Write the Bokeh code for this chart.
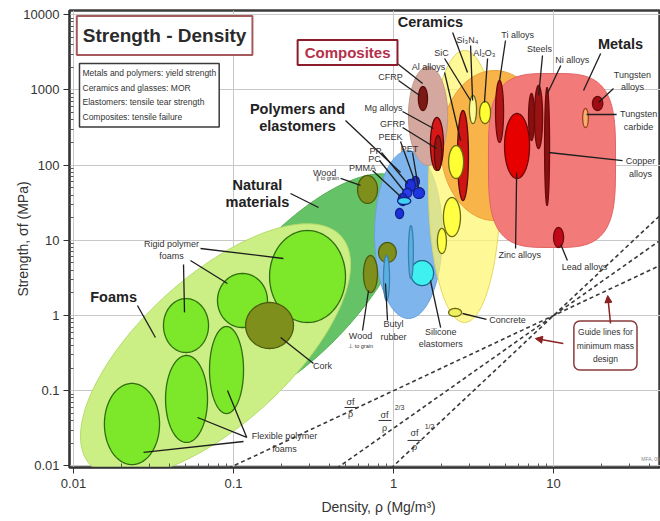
import numpy as np
from bokeh.plotting import figure
from bokeh.models import (ColumnDataSource, FixedTicker, CustomJSTickFormatter,
                          Label, Arrow, NormalHead, Range1d)
from bokeh.embed import file_html
from bokeh.resources import INLINE

FONT = "Liberation Sans"

# ---------------- axes ----------------
x_ticks = [0.01, 0.1, 1, 10]
x_tick_labels = ["0.01", "0.1", "1", "10"]
y_ticks = [0.01, 0.1, 1, 10, 100, 1000, 10000]
y_tick_labels = ["0.01", "0.1", "1", "10", "100", "1000", "10000"]

# ---------------- material-class envelopes ----------------
# density range (Mg/m3), strength range at the centre line (MPa),
# lean = decades of strength per decade of density along the envelope
env_names = ["Natural materials", "Foams", "Polymers and elastomers", "Ceramics",
             "Technical ceramics", "Composites", "Metals"]
env_rho_lo = [0.0539, 0.01106, 0.761, 1.655, 1.97, 1.24, 3.92]
env_rho_hi = [1.278, 0.539, 2.02, 4.66, 9.31, 2.18, 24.4]
env_sig_lo = [0.1855, 0.0199, 0.912, 0.807, 18.3, 98.8, 8.02]
env_sig_hi = [24.9, 5.92, 156.0, 3342.0, 1811.0, 2047.0, 1652.0]
env_lean = [1.644, 1.355, 0.0, 0.0, 0.0, 0.0, 0.0]
env_power = [2.0, 2.0, 2.0, 2.0, 2.0, 2.0, 3.5]
env_fill = ["#66c266", "#cbef84", "#7eb5ec", "#fff56e", "#f8b448", "#d4a89e", "#f27a78"]
env_line = ["#56b056", "#b4dc6c", "#6aa2dc", "#e2d85a", "#e8a038", "#c09488", "#e06464"]
env_alpha = [1.0, 1.0, 1.0, 0.72, 1.0, 1.0, 1.0]

# ---------------- individual material bubbles ----------------
foam_names = ["Rigid foam A", "Rigid foam B", "Rigid foam C",
              "Flexible foam A", "Flexible foam B", "Flexible foam C"]
foam_rho_lo = [0.0365, 0.0794, 0.168, 0.0156, 0.0376, 0.0708]
foam_rho_hi = [0.0698, 0.163, 0.501, 0.0345, 0.0688, 0.1155]
foam_sig_lo = [0.322, 0.692, 0.807, 0.0104, 0.0205, 0.0497]
foam_sig_hi = [1.68, 3.62, 13.5, 0.125, 0.294, 0.714]

natural_names = ["Cork", "Wood (parallel)", "Wood (perpendicular)", "Bamboo"]
natural_rho_lo = [0.119, 0.596, 0.649, 0.806]
natural_rho_hi = [0.237, 0.794, 0.794, 1.04]
natural_sig_lo = [0.364, 30.9, 2.02, 5.07]
natural_sig_hi = [1.49, 72.7, 6.28, 9.35]

polymer_names = ["PEEK", "PP", "PET", "PC", "PMMA", "PA", "PS",
                 "Silicone elastomers", "Butyl rubber", "Neoprene"]
polymer_rho_lo = [1.30, 1.19, 1.33, 1.14, 1.07, 1.03, 1.06, 1.28, 0.866, 1.24]
polymer_rho_hi = [1.45, 1.37, 1.56, 1.30, 1.22, 1.155, 1.28, 1.78, 0.944, 1.33]
polymer_sig_lo = [51.9, 44.6, 36.0, 37.1, 29.0, 19.5, 29.9, 2.5, 1.58, 3.1]
polymer_sig_hi = [70.5, 64.4, 50.3, 48.9, 41.9, 26.5, 37.1, 5.38, 6.28, 15.7]
polymer_fill = ["#2238e6", "#1e30d8", "#1f35e0", "#2a3cec", "#1c2cd0", "#1a30d8", "#3fd2ee",
                "#3ff0f0", "#5ab0e0", "#5ab0e0"]
polymer_line = ["#10208a"] * 7 + ["#1a6a8a", "#3a80b0", "#3a80b0"]

composite_names = ["CFRP", "Mg alloys", "GFRP", "Al alloys"]
composite_rho_lo = [1.43, 1.70, 1.80, 2.51]
composite_rho_hi = [1.63, 2.05, 2.00, 2.94]
composite_sig_lo = [532.0, 84.8, 84.8, 33.8]
composite_sig_hi = [1109.0, 430.0, 248.0, 532.0]
composite_fill = ["#7a1a14", "#d81818", "#9a1212", "#cf1414"]

metal_names = ["Ti alloys", "Steels A", "Steels B", "Copper alloys", "Zinc alloys",
               "Lead alloys", "Tungsten alloys", "Tungsten carbide"]
metal_rho_lo = [4.34, 6.98, 7.6, 8.79, 4.94, 10.0, 17.5, 15.2]
metal_rho_hi = [4.87, 7.6, 8.54, 9.44, 7.08, 11.55, 20.3, 16.5]
metal_sig_lo = [200.0, 212.0, 166.0, 29.0, 66.3, 8.02, 532.0, 316.0]
metal_sig_hi = [1334.0, 896.0, 1145.0, 1077.0, 486.0, 14.8, 817.0, 566.0]
metal_fill = ["#b01515", "#8a1010", "#9a1212", "#8a1010", "#e60000", "#c00818", "#a00c14", "#f5b070"]
metal_line = ["#6a0a0a"] * 7 + ["#a04020"]

ceramic_names = ["Glass", "Si3N4", "Al2O3", "Stone", "Brick", "Concrete"]
ceramic_rho_lo = [2.21, 2.98, 3.45, 2.05, 1.88, 2.21]
ceramic_rho_hi = [2.74, 3.30, 4.04, 2.62, 2.14, 2.66]
ceramic_sig_lo = [66.3, 357.0, 357.0, 11.2, 6.67, 0.97]
ceramic_sig_hi = [182.0, 843.0, 701.0, 37.1, 14.4, 1.24]
ceramic_fill = ["#ffff33", "#fdfa9a", "#ffff33", "#ffff44", "#ffff44", "#f0f060"]

# guide lines for minimum-mass design, all through (10 Mg/m3, 1 MPa)
guide_exponents = [1.0, 1.5, 2.0]
guide_anchor = (10.0, 1.0)


def outline(rho_lo, rho_hi, sig_lo, sig_hi, lean=0.0, power=2.0, n=140):
    """Closed outline of a bubble in log-log space (superellipse for power > 2)."""
    lx0, lx1 = np.log10(rho_lo), np.log10(rho_hi)
    ly0, ly1 = np.log10(sig_lo), np.log10(sig_hi)
    cx, a = (lx0 + lx1) / 2, (lx1 - lx0) / 2
    cy, b = (ly0 + ly1) / 2, (ly1 - ly0) / 2
    t = np.linspace(0, 2 * np.pi, n, endpoint=False)
    c, s = np.cos(t), np.sin(t)
    e = 2.0 / power
    c = np.sign(c) * np.abs(c) ** e
    s = np.sign(s) * np.abs(s) ** e
    return list(10 ** (cx + a * c)), list(10 ** (cy + lean * a * c + b * s))


def bubble_source(rlo, rhi, slo, shi, fill, line, alpha=None, lean=None, power=None):
    xs, ys = [], []
    for i in range(len(rlo)):
        x, y = outline(rlo[i], rhi[i], slo[i], shi[i],
                       lean[i] if lean else 0.0, power[i] if power else 2.0)
        xs.append(x)
        ys.append(y)
    return ColumnDataSource(dict(xs=xs, ys=ys, fill=fill, line=line,
                                 alpha=alpha if alpha else [1.0] * len(rlo)))


p = figure(width=660, height=521, x_axis_type="log", y_axis_type="log",
           x_range=Range1d(0.00944, 46.6), y_range=Range1d(0.00952, 11370),
           output_backend="svg", toolbar_location=None,
           min_border_left=69, min_border_right=0, min_border_top=10, min_border_bottom=54,
           x_axis_label="\u00a0" * 8 + "Density, \u03c1  (Mg/m\u00b3)",
           y_axis_label="Strength, \u03c3f (MPa)")

p.background_fill_color = "white"
p.border_fill_color = "white"
p.outline_line_color = "#3c3c3c"
p.outline_line_width = 2.5


def minors(lo_exp, hi_exp):
    return [m * 10.0 ** k for k in range(lo_exp, hi_exp) for m in range(2, 10)]


p.xaxis.ticker = FixedTicker(ticks=x_ticks, minor_ticks=minors(-3, 2))
p.yaxis.ticker = FixedTicker(ticks=y_ticks, minor_ticks=minors(-3, 5))
fmt_code = """
const i = tvals.findIndex(v => Math.abs(Math.log10(v) - Math.log10(tick)) < 1e-6);
return i < 0 ? "" : tlabels[i];
"""
p.xaxis.formatter = CustomJSTickFormatter(args=dict(tvals=x_ticks, tlabels=x_tick_labels), code=fmt_code)
p.yaxis.formatter = CustomJSTickFormatter(args=dict(tvals=y_ticks, tlabels=y_tick_labels), code=fmt_code)

for ax in (p.xaxis[0], p.yaxis[0]):
    ax.axis_line_color = "#333333"
    ax.axis_line_width = 1.5
    ax.major_tick_line_color = "#333333"
    ax.major_tick_out = 6
    ax.major_tick_in = 0
    ax.minor_tick_line_color = "#555555"
    ax.minor_tick_out = 0
    ax.minor_tick_in = 4
    ax.major_label_text_font = FONT
    ax.major_label_text_font_size = "13px"
    ax.major_label_text_color = "#333333"
    ax.axis_label_text_font = FONT
    ax.axis_label_text_font_size = "14px"
    ax.axis_label_text_font_style = "normal"
    ax.axis_label_text_color = "#333333"
p.xaxis.major_label_standoff = 5
p.xaxis.axis_label_standoff = 8
p.yaxis.major_label_standoff = 4
p.yaxis.axis_label_standoff = -11

p.xgrid.grid_line_color = "#c8c8c8"
p.ygrid.grid_line_color = "#c8c8c8"

# envelopes (natural, foams, polymers, ceramics, technical ceramics, composites, metals)
env_src = bubble_source(env_rho_lo, env_rho_hi, env_sig_lo, env_sig_hi, env_fill, env_line,
                        env_alpha, env_lean, env_power)
p.patches("xs", "ys", source=env_src, fill_color="fill", fill_alpha="alpha",
          line_color="line", line_width=1)

# bubbles
groups = [
    (natural_rho_lo, natural_rho_hi, natural_sig_lo, natural_sig_hi,
     ["#7f8f1c"] * 4, ["#4d5a10"] * 4),
    (foam_rho_lo, foam_rho_hi, foam_sig_lo, foam_sig_hi,
     ["#7de82a"] * 6, ["#2f6e10"] * 6),
    (polymer_rho_lo, polymer_rho_hi, polymer_sig_lo, polymer_sig_hi,
     polymer_fill, polymer_line),
    (composite_rho_lo, composite_rho_hi, composite_sig_lo, composite_sig_hi,
     composite_fill, ["#5a0a0a"] * 4),
    (metal_rho_lo, metal_rho_hi, metal_sig_lo, metal_sig_hi, metal_fill, metal_line),
    (ceramic_rho_lo, ceramic_rho_hi, ceramic_sig_lo, ceramic_sig_hi,
     ceramic_fill, ["#6a6a10"] * 6),
]
# cork sits above the rigid foams, so draw natural bubbles after foams
order = [1, 0, 2, 3, 4, 5]
for gi in order:
    rlo, rhi, slo, shi, fill, line = groups[gi]
    src = bubble_source(rlo, rhi, slo, shi, fill, line)
    p.patches("xs", "ys", source=src, fill_color="fill", line_color="line", line_width=1.3)

# guide lines
for k in guide_exponents:
    r0 = guide_anchor[0] * (0.0093 / guide_anchor[1]) ** (1.0 / k)
    rr = np.logspace(np.log10(r0), np.log10(46.6), 60)
    ss = guide_anchor[1] * (rr / guide_anchor[0]) ** k
    p.line(rr, ss, line_color="#3a3a3a", line_width=1.6, line_dash="4 3")

# leader lines from labels to bubbles
pointers = [
    (0.0251, 1.36, 0.0325, 0.51),
    (0.0622, 7.78, 0.205, 5.73), (0.0538, 5.39, 0.0917, 2.66), (0.0487, 4.77, 0.0494, 1.1),
    (0.227, 41.9, 0.340, 27.3),
    (0.501, 392, 1.106, 79.7),
    (2.34, 5800, 2.90, 1703),
    (19.7, 3048, 15.4, 982),
    (1.0, 2460, 1.52, 1217),
    (0.467, 66.4, 0.622, 53.6),
    (0.739, 84.8, 1.106, 38.2),
    (0.818, 115, 1.155, 45.9),
    (0.841, 147, 1.223, 56.9),
    (1.106, 206, 1.353, 62.4),
    (1.314, 147, 1.433, 48.9),
    (1.138, 316, 1.857, 166),
    (1.138, 516, 1.778, 307),
    (1.075, 1334, 1.455, 843),
    (2.084, 1703, 2.623, 212),
    (2.084, 2616, 3.03, 723),
    (3.03, 3893, 3.12, 723),
    (3.87, 2616, 3.70, 680),
    (5.01, 4540, 4.60, 1334),
    (8.53, 2866, 8.07, 843),
    (11.1, 2110, 9.16, 896),
    (23.7, 1044, 19.1, 680),
    (24.8, 471, 16.1, 471),
    (27.0, 115, 9.31, 147),
    (5.79, 7.78, 5.88, 79.7),
    (12.2, 5.39, 11.1, 8.79),
    (3.81, 0.885, 2.70, 1.063),
    (1.97, 0.692, 1.70, 2.92),
    (0.917, 0.858, 0.891, 2.66),
    (0.640, 0.632, 0.698, 2.15),
    (0.316, 0.230, 0.197, 0.51),
    (0.121, 0.0239, 0.0917, 0.1007), (0.121, 0.0239, 0.0596, 0.044),
    (0.1155, 0.0211, 0.0274, 0.0151),
]
p.segment([q[0] for q in pointers], [q[1] for q in pointers],
          [q[2] for q in pointers], [q[3] for q in pointers],
          line_color="#1e1e1e", line_width=1.3)

# fraction bars of the guide-line indices
bars = [(0.494, 0.587, 0.0598), (0.806, 0.972, 0.0402), (1.223, 1.496, 0.0218)]
p.segment([b[0] for b in bars], [b[2] for b in bars], [b[1] for b in bars], [b[2] for b in bars],
          line_color="#333333", line_width=1)


def add_label(text, x, y, size="9px", bold=False, color="#333333", align="center",
              baseline="middle", line_height=1.25, **kw):
    p.add_layout(Label(x=x, y=y, text=text, text_font=FONT, text_font_size=size,
                       text_font_style="bold" if bold else "normal", text_color=color,
                       text_align=align, text_baseline=baseline,
                       text_line_height=line_height, **kw))


# group titles
add_label("Foams", 0.0178, 1.74, "14.5px", True, "#222222")
add_label("Natural\nmaterials", 0.141, 41.9, "14.5px", True, "#222222", line_height=1.1)
add_label("Polymers and\nelastomers", 0.251, 430, "14.5px", True, "#222222", line_height=1.05)
add_label("Ceramics", 1.70, 7874, "14.5px", True, "#222222")
add_label("Metals", 26.2, 4018, "14.5px", True, "#222222")

# framed boxes
add_label("Strength - Density", 0.0371, 5290, "19px", True, "#2b2b2b",
          border_line_color="#a45a5a", border_line_width=2,
          background_fill_color="white", padding=(6, 9))
add_label("Metals and polymers: yield strength\nCeramics and glasses: MOR\n"
          "Elastomers: tensile tear strength\nComposites: tensile failure",
          0.0109, 2244, "8.5px", False, "#333333", align="left", baseline="top",
          line_height=1.45, border_line_color="#3a3a3a", border_line_width=1.5,
          background_fill_color="white", padding=(3, 5))
add_label("Composites", 0.516, 3142, "15px", True, "#b5304a",
          border_line_color="#8b1c2c", border_line_width=2,
          background_fill_color="white", padding=(7, 4))
add_label("Guide lines for\nminimum mass\ndesign", 21.1, 0.399, "8.5px", False, "#333333",
          line_height=1.35, border_line_color="#8b3a3a", border_line_width=1.5,
          background_fill_color="white", padding=(3, 6), border_radius=6)

# material names
small = [
    ("Rigid polymer\nfoams", 0.041, 7.43),
    ("PMMA", 0.640, 90.1), ("PC", 0.761, 122), ("PP", 0.772, 156),
    ("PEEK", 0.958, 233), ("PET", 1.259, 166), ("GFRP", 0.986, 347),
    ("Mg alloys", 0.866, 566), ("CFRP", 0.958, 1462), ("Al alloys", 1.655, 1986),
    ("SiC", 1.995, 3048), ("Si\u2083N\u2084", 2.90, 4540), ("Al\u2082O\u2083", 3.70, 3048),
    ("Ti alloys", 5.96, 5290), ("Steels", 8.18, 3445), ("Ni alloys", 13.1, 2460),
    ("Tungsten\nalloys", 31.1, 1313), ("Tungsten\ncarbide", 34.0, 392),
    ("Copper\nalloys", 35.0, 92.9), ("Zinc alloys", 6.14, 6.28), ("Lead alloys", 15.6, 4.35),
    ("Concrete", 5.16, 0.858), ("Silicone\nelastomers", 1.97, 0.502),
    ("Butyl\nrubber", 1.0, 0.632), ("Cork", 0.360, 0.210),
    ("Flexible polymer\nfoams", 0.208, 0.0205),
    ("Wood", 0.371, 79.7), ("Wood", 0.622, 0.526),
]
for t, x, y in small:
    add_label(t, x, y, "9px", line_height=1.25)
add_label("\u2225 to grain", 0.387, 66.4, "5.5px")
add_label("\u22a5 to grain", 0.622, 0.399, "5.5px")

# guide-line indices
for t, x, y, s in [("\u03c3f", 0.538, 0.0718, "9px"), ("\u03c1", 0.538, 0.0497, "9px"),
                   ("\u03c3f", 0.878, 0.0482, "9px"), ("\u03c1", 0.878, 0.0324, "9px"),
                   ("2/3", 1.09, 0.0598, "7px"),
                   ("\u03c3f", 1.353, 0.027, "9px"), ("\u03c1", 1.353, 0.0176, "9px"),
                   ("1/2", 1.679, 0.0334, "7px")]:
    add_label(t, x, y, s)
add_label("MFA, 09", 40.4, 0.0125, "5px", color="#888888")

# arrows from the guide-line note
for xs_, ys_, xe_, ye_ in [(11.5, 0.424, 7.7, 0.494), (22.7, 0.783, 21.8, 1.84)]:
    p.add_layout(Arrow(end=NormalHead(size=7, fill_color="#8b2020", line_color="#8b2020"),
                       x_start=xs_, y_start=ys_, x_end=xe_, y_end=ye_,
                       line_color="#8b2020", line_width=1.5))

open("out.html", "w").write(file_html(p, INLINE))
